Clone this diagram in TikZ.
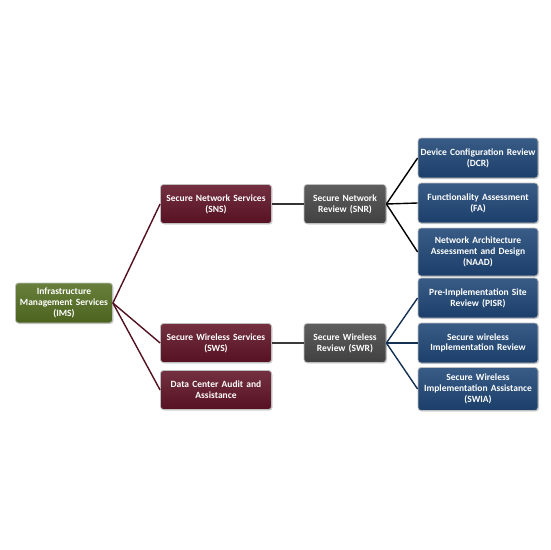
\documentclass[tikz,border=0pt]{standalone}
\usepackage{fontspec}
\setmainfont{Carlito}
\usetikzlibrary{positioning,shadows}
\definecolor{olivbox}{RGB}{84,110,34}
\definecolor{bordbox}{RGB}{96,20,38}
\definecolor{szurke}{RGB}{72,72,72}
\definecolor{kekbox}{RGB}{30,70,118}
\tikzset{
  doboz/.style={draw=white!75!black,line width=0.8pt,rounded corners=3pt,align=center,
                font=\fontsize{9.5}{10.8}\selectfont\bfseries,text=white,inner sep=0.5pt,
                drop shadow={shadow xshift=1pt,shadow yshift=-1pt,opacity=0.35}},
  gyoker/.style={doboz,top color=olivbox!88!white,bottom color=olivbox!90!black,
                 minimum width=97pt,minimum height=40pt,text width=96pt},
  bord/.style={doboz,top color=bordbox!88!white,bottom color=bordbox!90!black,
               minimum width=111pt,minimum height=39pt,text width=110pt},
  szurk/.style={doboz,top color=szurke!88!white,bottom color=szurke!90!black,
                minimum width=82pt,minimum height=39pt,text width=81pt},
  kek/.style={doboz,top color=kekbox!88!white,bottom color=kekbox!90!black,
              minimum width=120pt,minimum height=40pt,text width=119pt},
  vonal/.style={line width=1.4pt},
}
\begin{document}
\begin{tikzpicture}[x=1pt,y=-1pt]
  \useasboundingbox[fill=white] (0,0) rectangle (550,550);
  % bal oldal
  \node[gyoker] (ims) at (64,303) {Infrastructure\\Management Services\\(IMS)};
  \node[bord] (sns) at (216,204) {Secure Network Services\\(SNS)};
  \node[bord] (sws) at (216,343) {Secure Wireless Services\\(SWS)};
  \node[bord] (dca) at (216,390) {Data Center Audit and\\Assistance};
  % kozep
  \node[szurk] (snr) at (345,204) {Secure Network\\Review (SNR)};
  \node[szurk] (swr) at (345,343) {Secure Wireless\\Review (SWR)};
  % jobb oldal
  \node[kek] (dcr) at (478,158) {Device Configuration Review\\(DCR)};
  \node[kek] (fa) at (478,203) {Functionality Assessment\\(FA)};
  \node[kek,minimum height=48pt] (naad) at (478,252) {Network Architecture\\Assessment and Design\\(NAAD)};
  \node[kek] (pisr) at (478,298) {Pre-Implementation Site\\Review (PISR)};
  \node[kek] (swir) at (478,343) {Secure wireless\\Implementation Review};
  \node[kek,minimum height=43pt] (swia) at (478,389) {Secure Wireless\\Implementation Assistance\\(SWIA)};
  % vonalak
  \foreach \c in {sns,sws,dca} \draw[vonal,bordbox!85!black] (ims.east) -- (\c.west);
  \draw[vonal,black!80] (sns) -- (snr);
  \draw[vonal,szurke!80!black] (sws) -- (swr);
  \foreach \c in {dcr,fa,naad} \draw[vonal,black] (snr.east) -- (\c.west);
  \foreach \c in {pisr,swir,swia} \draw[vonal,kekbox!70!black] (swr.east) -- (\c.west);
\end{tikzpicture}
\end{document}
